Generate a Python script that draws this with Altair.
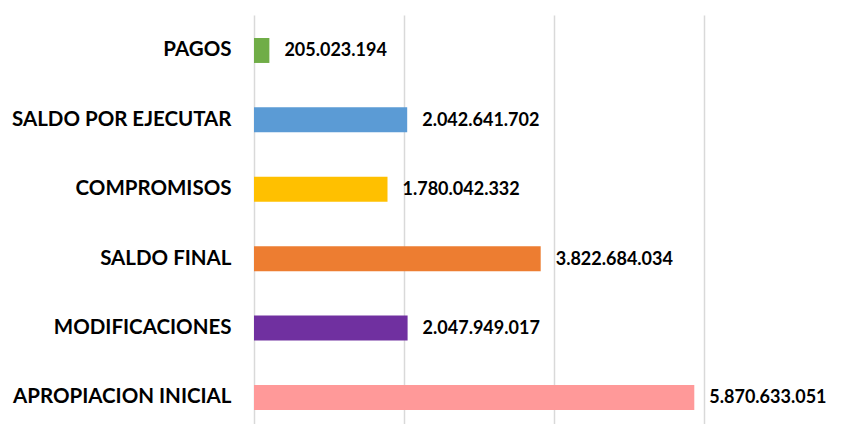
import altair as alt
import pandas as pd

categories = ["PAGOS", "SALDO POR EJECUTAR", "COMPROMISOS", "SALDO FINAL",
              "MODIFICACIONES", "APROPIACION INICIAL"]
values = [205023194, 2042641702, 1780042332, 3822684034, 2047949017, 5870633051]
colors = ["#70AD47", "#5B9BD5", "#FFC000", "#ED7D31", "#7030A0", "#FF9999"]

df = pd.DataFrame({
    "cat": categories,
    "val": values,
    "color": colors,
    "label": [f"{v:,}".replace(",", ".") for v in values],
})

FONT = "Lato"

y_enc = alt.Y("cat:N", sort=categories, title=None,
              scale=alt.Scale(paddingInner=0.64, paddingOuter=0.267, align=0.62),
              axis=alt.Axis(labelFont=FONT, labelFontSize=20.5, labelFontWeight="bold",
                            labelColor="#000000", labelPadding=23, ticks=False,
                            domain=False, labelLimit=400))
x_enc = alt.X("val:Q", title=None,
              scale=alt.Scale(domain=[0, 6000000000], nice=False),
              axis=alt.Axis(values=[0, 2000000000, 4000000000, 6000000000],
                            labels=False, ticks=False, domain=False,
                            grid=True, gridColor="#d9d9d9", gridWidth=1.5))

bars = alt.Chart(df).mark_bar().encode(
    x=x_enc, y=y_enc,
    color=alt.Color("color:N", scale=None),
)
text = alt.Chart(df).mark_text(align="left", baseline="middle", dx=15, dy=1,
                               font=FONT, fontSize=18, fontWeight="bold",
                               color="#000000").encode(
    x=alt.X("val:Q"), y=alt.Y("cat:N", sort=categories), text="label:N")

chart = alt.layer(bars, text).properties(
    width=450, height=409,
    autosize=alt.AutoSizeParams(type="none"),
    padding={"left": 254, "top": 15, "right": 145, "bottom": 0},
    background="#ffffff",
).configure_view(stroke=None)

chart.save("out.html", embed_options={"renderer": "svg", "actions": False})
